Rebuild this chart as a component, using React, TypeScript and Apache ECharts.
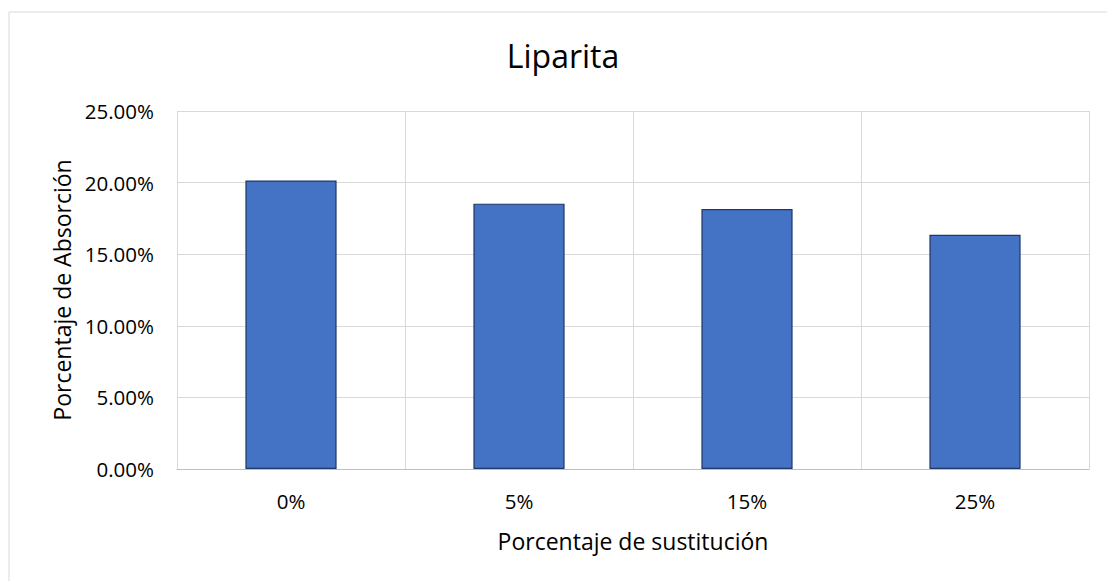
import React, { useEffect, useRef } from "react";
import * as echarts from "echarts";

const categories = ["0%", "5%", "15%", "25%"];
const absorption = [0.2015, 0.1853, 0.1816, 0.1636];
const yTicks = { min: 0, max: 0.25, interval: 0.05 };
const titleText = "Liparita";
const xAxisTitle = "Porcentaje de sustitución";
const yAxisTitle = "Porcentaje de Absorción";

export default function App() {
  const ref = useRef<HTMLDivElement>(null);
  useEffect(() => {
    if (!ref.current) return;
    const chart = echarts.init(ref.current, null, { renderer: "svg" });
    const font = "Open Sans, Noto Sans, sans-serif";
    chart.setOption({
      animation: false,
      backgroundColor: "#ffffff",
      textStyle: { fontFamily: font },
      graphic: [
        {
          type: "rect",
          shape: { x: 9, y: 12, width: 1200, height: 700 },
          style: { fill: "none", stroke: "#d9d9d9", lineWidth: 1 },
          silent: true,
        },
        {
          type: "text",
          x: 563,
          y: 55,
          style: {
            text: titleText,
            fontFamily: font,
            fontSize: 32,
            fill: "#000",
            align: "center",
            verticalAlign: "middle",
          },
          silent: true,
        },
      ],
      grid: { left: 177, right: 18, top: 111, bottom: 112, containLabel: false },
      xAxis: {
        type: "category",
        data: categories,
        boundaryGap: true,
        name: xAxisTitle,
        nameLocation: "middle",
        nameGap: 60,
        nameTextStyle: { fontFamily: font, fontSize: 23, color: "#000" },
        axisLine: { show: true, lineStyle: { color: "#bfbfbf", width: 1 } },
        axisTick: { show: false },
        axisLabel: { fontFamily: font, fontSize: 20.5, color: "#000", margin: 21 },
        splitLine: { show: true, lineStyle: { color: "#d9d9d9", width: 1 } },
      },
      yAxis: {
        type: "value",
        min: yTicks.min,
        max: yTicks.max,
        interval: yTicks.interval,
        name: yAxisTitle,
        nameLocation: "middle",
        nameGap: 104,
        nameRotate: 90,
        nameTextStyle: { fontFamily: font, fontSize: 23, color: "#000" },
        axisLine: { show: false },
        axisTick: { show: false },
        axisLabel: {
          fontFamily: font,
          fontSize: 20.5,
          color: "#000",
          margin: 23,
          formatter: (v: number) => (v * 100).toFixed(2) + "%",
        },
        splitLine: { show: true, lineStyle: { color: "#d9d9d9", width: 1 } },
      },
      series: [
        {
          type: "bar",
          data: absorption,
          barWidth: "40%",
          itemStyle: { color: "#4472C4", borderColor: "#1f3864", borderWidth: 1.2 },
        },
      ],
    });
    return () => chart.dispose();
  }, []);
  return (
    <div
      ref={ref}
      style={{ position: "fixed", left: 0, top: 0, width: 1107, height: 581 }}
    />
  );
}
